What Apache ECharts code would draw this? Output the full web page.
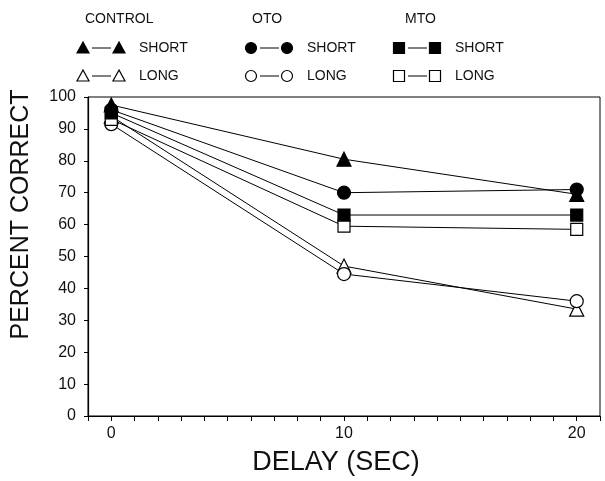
<!DOCTYPE html>
<html>
<head>
  <meta charset="utf-8">
  <title></title>
  <script src="https://cdn.jsdelivr.net/npm/echarts@6/dist/echarts.min.js"></script>
  <style>
    html, body { margin: 0; padding: 0; background: #fff; }
    #chart { width: 605px; height: 481px; }
  </style>
</head>
<body>
<div id="chart"></div>
<script>
  // delay (sec)
  var delays = [0, 10, 20];
  // percent correct per group
  var controlShort = [97.5, 80.5, 69.5];
  var controlLong = [94, 47, 33.5];
  var otoShort = [96, 70, 71];
  var otoLong = [91.5, 44.5, 36];
  var mtoShort = [95, 63, 63];
  var mtoLong = [93, 59.5, 58.5];
  var xTickLabels = ['0', '10', '20'];

  var font = 'Liberation Sans, Arial, sans-serif';

  function pairs(ys) {
    var out = [];
    for (var i = 0; i < delays.length; i++) {
      out.push([delays[i], ys[i]]);
    }
    return out;
  }

  function mkSeries(name, ys, symbol, filled, size) {
    return {
      name: name,
      type: 'line',
      data: pairs(ys),
      symbol: symbol,
      symbolSize: size,
      showAllSymbol: true,
      lineStyle: { color: '#000', width: 1 },
      itemStyle: { color: filled ? '#000' : '#fff', borderColor: '#000', borderWidth: 1.2 },
      emphasis: { disabled: true },
      z: filled ? 3 : 2
    };
  }

  // legend drawn by hand: marker — marker label
  var legendGfx = [];
  function legendRow(x, y, shape, filled, label) {
    var style = { fill: filled ? '#000' : '#fff', stroke: '#000', lineWidth: 1.2 };
    [x, x + 36].forEach(function (cx) {
      if (shape === 'tri') {
        legendGfx.push({ type: 'polygon', shape: { points: [[cx, y - 6], [cx - 6, y + 5], [cx + 6, y + 5]] }, style: style });
      } else if (shape === 'circle') {
        legendGfx.push({ type: 'circle', shape: { cx: cx, cy: y, r: 5.5 }, style: style });
      } else {
        legendGfx.push({ type: 'rect', shape: { x: cx - 5.5, y: y - 5.5, width: 11, height: 11 }, style: style });
      }
    });
    legendGfx.push({ type: 'line', shape: { x1: x + 9, y1: y, x2: x + 28, y2: y }, style: { stroke: '#000', lineWidth: 1 } });
    legendGfx.push({ type: 'text', x: x + 56, y: y, style: { text: label, fill: '#111', font: '14px ' + font, textVerticalAlign: 'middle' } });
  }
  function header(x, y, label) {
    legendGfx.push({ type: 'text', x: x, y: y, style: { text: label, fill: '#111', font: '14px ' + font, textVerticalAlign: 'middle' } });
  }
  header(85, 19, 'CONTROL');
  header(252, 19, 'OTO');
  header(405, 19, 'MTO');
  legendRow(83, 48, 'tri', true, 'SHORT');
  legendRow(83, 76, 'tri', false, 'LONG');
  legendRow(251, 48, 'circle', true, 'SHORT');
  legendRow(251, 76, 'circle', false, 'LONG');
  legendRow(399, 48, 'rect', true, 'SHORT');
  legendRow(399, 76, 'rect', false, 'LONG');

  var chart = echarts.init(document.getElementById('chart'), null, { renderer: 'canvas' });
  chart.setOption({
    animation: false,
    backgroundColor: '#fff',
    grid: {
      left: 88, right: 5, top: 97, bottom: 64,
      show: true, borderColor: '#000', borderWidth: 1, backgroundColor: 'transparent'
    },
    graphic: legendGfx,
    xAxis: {
      type: 'value',
      min: -1,
      max: 21,
      interval: 1,
      name: 'DELAY (SEC)',
      nameLocation: 'middle',
      nameGap: 33,
      nameTextStyle: { fontFamily: font, fontSize: 27, color: '#111', padding: [0, 16, 0, 0] },
      axisLine: { onZero: false, lineStyle: { color: '#000', width: 1.2 } },
      axisTick: { show: true, inside: false, length: 5, lineStyle: { color: '#000' } },
      axisLabel: {
        fontFamily: font, fontSize: 16, color: '#111', margin: 10, showMinLabel: true, showMaxLabel: true,
        formatter: function (v) {
          var i = delays.indexOf(v);
          return i >= 0 ? xTickLabels[i] : '';
        }
      },
      splitLine: { show: false }
    },
    yAxis: {
      type: 'value',
      min: 0,
      max: 100,
      interval: 10,
      name: 'PERCENT CORRECT',
      nameLocation: 'middle',
      nameGap: 54,
      nameTextStyle: { fontFamily: font, fontSize: 25, color: '#111', padding: [0, 0, 0, 84] },
      axisLine: { show: true, onZero: false, lineStyle: { color: '#000', width: 1.2 } },
      axisTick: { show: true, length: 4, lineStyle: { color: '#000' } },
      axisLabel: { fontFamily: font, fontSize: 16, color: '#111', margin: 12 },
      splitLine: { show: false }
    },
    series: [
      mkSeries('CONTROL SHORT', controlShort, 'triangle', true, 14),
      mkSeries('CONTROL LONG', controlLong, 'triangle', false, 14),
      mkSeries('OTO SHORT', otoShort, 'circle', true, 13),
      mkSeries('OTO LONG', otoLong, 'circle', false, 13),
      mkSeries('MTO SHORT', mtoShort, 'rect', true, 12),
      mkSeries('MTO LONG', mtoLong, 'rect', false, 12)
    ]
  });
</script>
</body>
</html>
